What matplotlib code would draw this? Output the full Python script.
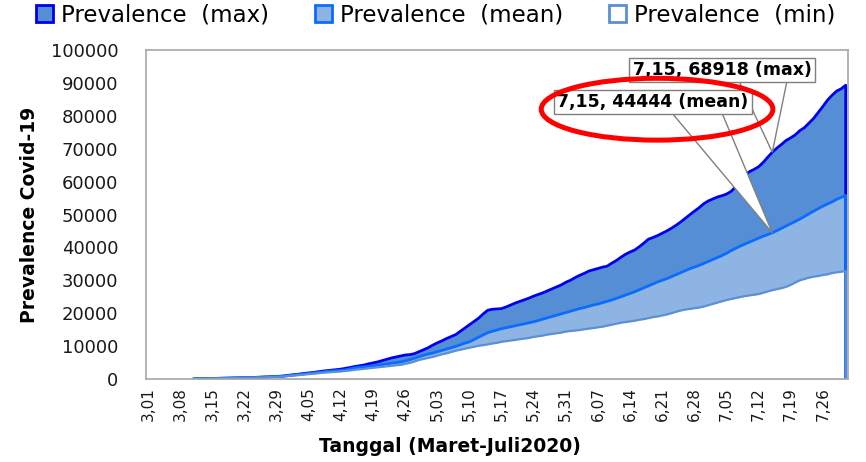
import numpy as np
import pandas as pd
import matplotlib
matplotlib.use("Agg")
import matplotlib.pyplot as plt
from matplotlib.patches import Patch, Ellipse, Polygon

# daily categories, March 1 - July 31 2020
dates = pd.date_range("2020-03-01", "2020-07-31", freq="D")
tick_labels = [f"{d.month},{d.day:02d}" for d in dates]
first_day = dates.get_loc(pd.Timestamp("2020-03-11"))  # series start here
mark_day = dates.get_loc(pd.Timestamp("2020-07-15"))   # annotated day

# values, one per day from 3/11 to 7/31
prev_max = [
    30, 60, 90, 120, 150, 180, 200, 230, 260, 280,
    300, 360, 420, 470, 520, 580, 640, 700, 780, 860,
    1000, 1200, 1350, 1500, 1700, 1850, 2000, 2200, 2400, 2550,
    2700, 2850, 3000, 3250, 3500, 3800, 4000, 4250, 4600, 4900,
    5200, 5600, 6000, 6400, 6700, 7000, 7300, 7400, 7700, 8300,
    8900, 9500, 10300, 11000, 11600, 12300, 12900, 13500, 14500, 15500,
    16500, 17500, 18500, 19800, 20900, 21200, 21300, 21400, 21900, 22500,
    23100, 23600, 24100, 24600, 25200, 25700, 26200, 26800, 27400, 28000,
    28600, 29400, 30000, 30800, 31500, 32100, 32800, 33200, 33600, 34000,
    34300, 35200, 36000, 37000, 37900, 38600, 39200, 40200, 41300, 42500,
    43000, 43600, 44300, 45000, 45800, 46700, 47700, 48800, 49900, 51000,
    52000, 53200, 54100, 54700, 55300, 55700, 56200, 57000, 58400, 60500,
    62000, 63000, 63700, 64500, 65800, 67400, 68918, 70200, 71300, 72500,
    73300, 74200, 75500, 76400, 77800, 79200, 81000, 82800, 84700, 86200,
    87500, 88200, 89300,
]
prev_mean = [
    30, 60, 90, 120, 150, 180, 200, 230, 260, 280,
    300, 350, 400, 450, 500, 550, 600, 660, 730, 800,
    950, 1100, 1250, 1400, 1550, 1700, 1850, 2000, 2150, 2300,
    2450, 2550, 2600, 2800, 3100, 3400, 3550, 3700, 3850, 4000,
    4200, 4400, 4600, 4800, 5000, 5200, 5500, 5900, 6300, 6800,
    7200, 7600, 7900, 8300, 8700, 9100, 9500, 9900, 10400, 10900,
    11300, 12000, 12700, 13400, 14100, 14500, 14900, 15300, 15600, 15900,
    16200, 16500, 16800, 17100, 17400, 17800, 18200, 18600, 19000, 19400,
    19800, 20200, 20600, 21000, 21400, 21700, 22100, 22500, 22800, 23200,
    23600, 24000, 24500, 25000, 25500, 26000, 26500, 27100, 27700, 28300,
    28900, 29500, 30000, 30500, 31100, 31700, 32300, 32900, 33500, 34000,
    34500, 35100, 35700, 36300, 36900, 37500, 38200, 39000, 39700, 40400,
    41000, 41600, 42200, 42800, 43400, 43900, 44444, 45100, 45800, 46500,
    47200, 47900, 48600, 49400, 50200, 51000, 51800, 52500, 53200, 53800,
    54600, 55200, 55800,
]
prev_min = [
    30, 60, 90, 120, 150, 180, 200, 230, 260, 280,
    300, 340, 380, 420, 460, 500, 550, 600, 660, 720,
    850, 1000, 1100, 1200, 1350, 1500, 1600, 1750, 1900, 2000,
    2100, 2200, 2300, 2450, 2600, 2800, 2950, 3100, 3250, 3400,
    3550, 3700, 3850, 4000, 4150, 4300, 4600, 4900, 5300, 5800,
    6100, 6400, 6700, 7100, 7500, 7800, 8200, 8600, 8900, 9200,
    9500, 9800, 10100, 10300, 10500, 10800, 11000, 11300, 11500, 11700,
    11900, 12100, 12300, 12500, 12800, 13000, 13200, 13500, 13700, 13900,
    14100, 14400, 14600, 14700, 14900, 15100, 15300, 15500, 15700, 15900,
    16200, 16500, 16800, 17100, 17300, 17500, 17700, 18000, 18200, 18500,
    18800, 19000, 19300, 19600, 20000, 20400, 20800, 21100, 21300, 21500,
    21700, 22000, 22400, 22800, 23200, 23600, 24000, 24300, 24600, 24900,
    25200, 25400, 25600, 25800, 26200, 26600, 27000, 27300, 27600, 28000,
    28600, 29300, 30000, 30400, 30800, 31100, 31300, 31600, 31800, 32200,
    32400, 32600, 32800,
]

x = np.arange(first_day, first_day + len(prev_max))

W, H = 866, 462
fig = plt.figure(figsize=(W / 100, H / 100), dpi=100)
ax = fig.add_axes([146 / W, 1 - 379 / H, 702 / W, 329 / H])

# layered areas: max, then mean, then min (white) on top
series = [
    (prev_max, "#558ED5", "#0000F0", 2.0),
    (prev_mean, "#8EB4E3", "#0A6CFF", 2.0),
    (prev_min, "white", "#5B8FD6", 1.6),
]
for vals, fill, edge, lw in series:
    ax.fill_between(x, 0, vals, color=fill, lw=0, zorder=1)
    # outline incl. the drop to zero at the last day
    ax.plot(np.r_[x, x[-1]], np.r_[vals, 0], color=edge, lw=lw, zorder=2)

ax.set_xlim(-0.5, len(dates) - 0.5)
ax.set_ylim(0, 100000)
ax.set_yticks(np.arange(0, 100001, 10000))
ax.set_xticks(np.arange(0, len(dates), 7))
ax.set_xticklabels(tick_labels[::7], rotation=90)
ax.tick_params(axis="y", length=0, pad=20, labelsize=13, labelcolor="#1a1a1a")
ax.tick_params(axis="x", length=0, pad=6, labelsize=11, labelcolor="#1a1a1a")
for s in ax.spines.values():
    s.set_color("#A6A6A6")
    s.set_linewidth(1.2)
    s.set_zorder(5)

ax.set_ylabel("Prevalence Covid-19", fontsize=13.5, fontweight="bold")
ax.yaxis.set_label_coords(-0.152, 0.5)
ax.set_xlabel("Tanggal (Maret-Juli2020)", fontsize=13.5, fontweight="bold")
ax.xaxis.set_label_coords(0.433, -0.175)

# callouts for 7/15: wedge from the box bottom edge (figure px, from top) to the point
k = mark_day - first_day
callouts = [
    (f"7,15, {prev_max[k]} (max)", prev_max[k], (722, 70), (739, 787, 81), 6),
    (f"7,15, {prev_mean[k]} (mean)", prev_mean[k], (653, 102), (672, 722, 113), 7),
]
for label, val, (cx, cy), (bx0, bx1, by), z in callouts:
    tip = ax.transData.transform((mark_day, val))
    wedge = Polygon([(bx0, H - by), (bx1, H - by), tuple(tip)], closed=True,
                    transform=None, fc="white", ec="#7F7F7F", lw=1,
                    zorder=z, clip_on=False)
    ax.add_artist(wedge)
    ax.text(cx / W, 1 - cy / H, label, transform=fig.transFigure,
            ha="center", va="center", fontsize=12.5, fontweight="bold",
            bbox=dict(boxstyle="square,pad=0.2", fc="white", ec="#7F7F7F", lw=1),
            zorder=z + 0.5)

ax.add_patch(Ellipse((0.728, 0.82), 0.33, 0.188, transform=ax.transAxes,
                     fill=False, ec="#FF0000", lw=3.6, zorder=8, clip_on=False))

handles = [
    Patch(facecolor="#558ED5", edgecolor="#0000F0", lw=2),
    Patch(facecolor="#8EB4E3", edgecolor="#0A6CFF", lw=2),
    Patch(facecolor="white", edgecolor="#5B8FD6", lw=2),
]
fig.legend(handles, ["Prevalence  (max)", "Prevalence  (mean)", "Prevalence  (min)"],
           loc="center left", bbox_to_anchor=(36 / W, 1 - 15 / H),
           ncol=3, frameon=False, fontsize=16.5, borderpad=0, borderaxespad=0,
           handlelength=0.74, handleheight=0.74, handletextpad=0.35,
           columnspacing=2.0)

fig.savefig("out.png", dpi=100)
